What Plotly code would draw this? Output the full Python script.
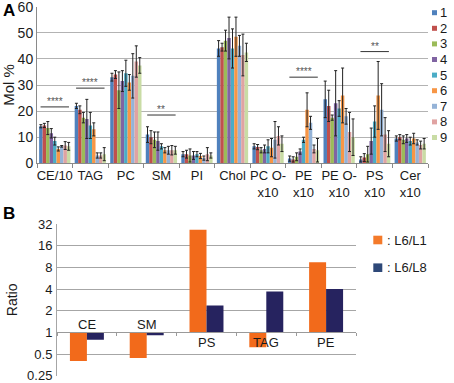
import math
import plotly.graph_objects as go

W, H = 454, 383

# ---------------- Panel A data ----------------
categories_a = ["CE/10", "TAG", "PC", "SM", "PI", "Chol", "PC O-<br>x10",
                "PE<br>x10", "PE O-<br>x10", "PS<br>x10", "Cer<br>x10"]
series_names = ["1", "2", "3", "4", "5", "6", "7", "8", "9"]
series_colors = ["#4F81BD", "#C0504D", "#9BBB59", "#8064A2", "#4BACC6",
                 "#F79646", "#95B3D7", "#E0A3A2", "#C9DCA5"]

s1 = [14.2, 22.0, 33.0, 11.0, 3.5, 44.0, 6.5, 1.8, 24.5, 1.5, 9.5]
s2 = [14.5, 20.5, 34.0, 10.0, 3.5, 44.5, 6.2, 1.5, 22.0, 2.2, 10.0]
s3 = [13.5, 17.5, 28.0, 9.0, 3.0, 47.0, 5.0, 2.5, 17.5, 3.5, 9.0]
s4 = [11.5, 17.0, 31.5, 8.5, 3.0, 48.0, 5.5, 4.5, 23.0, 8.5, 9.5]
s5 = [8.5, 14.5, 34.5, 6.5, 3.5, 44.0, 6.5, 9.0, 21.0, 16.0, 8.5]
s6 = [5.5, 13.0, 31.0, 5.0, 2.8, 48.5, 6.0, 20.5, 26.0, 26.0, 9.5]
s7 = [6.5, 3.0, 33.5, 5.0, 2.0, 45.0, 9.0, 15.5, 18.0, 20.5, 8.0]
s8 = [6.8, 3.0, 39.0, 5.0, 3.5, 41.5, 10.5, 5.5, 12.0, 11.0, 7.0]
s9 = [6.5, 3.5, 37.5, 5.0, 3.0, 42.5, 7.5, 5.0, 10.0, 7.5, 7.5]

e1 = [0.6, 1.0, 1.5, 3.0, 1.0, 3.0, 1.0, 1.0, 7.0, 1.0, 1.0]
e2 = [0.8, 1.5, 1.5, 2.5, 1.5, 1.5, 1.0, 1.0, 6.0, 1.5, 1.0]
e3 = [2.5, 2.0, 7.0, 3.0, 2.5, 4.0, 1.0, 1.5, 1.0, 3.0, 1.5]
e4 = [1.8, 7.5, 4.0, 3.5, 1.5, 8.0, 1.5, 1.0, 12.5, 5.0, 1.5]
e5 = [1.5, 5.0, 5.0, 1.0, 1.0, 7.5, 2.5, 1.0, 3.0, 6.0, 1.5]
e6 = [0.8, 2.5, 3.0, 1.0, 1.0, 7.5, 3.5, 6.5, 10.5, 13.0, 2.0]
e7 = [0.3, 1.0, 8.5, 1.5, 0.8, 4.0, 7.0, 2.5, 3.0, 10.0, 1.0]
e8 = [1.5, 1.0, 6.0, 1.8, 2.5, 8.0, 3.5, 1.5, 7.5, 6.5, 1.5]
e9 = [1.5, 2.5, 3.0, 1.5, 1.0, 3.5, 3.0, 4.5, 7.0, 5.0, 2.0]

series_values = [s1, s2, s3, s4, s5, s6, s7, s8, s9]
series_errors = [e1, e2, e3, e4, e5, e6, e7, e8, e9]

sig_category_index = [0, 1, 3, 7, 9]
sig_level = [21.6, 28.8, 18.5, 33.0, 42.8]
sig_label = ["****", "****", "**", "****", "**"]

# ---------------- Panel B data ----------------
categories_b = ["CE", "SM", "PS", "TAG", "PE"]
ratio_l6_l1 = [0.40, 0.44, 26.6, 0.62, 9.4]
ratio_l6_l8 = [0.79, 0.91, 2.37, 3.7, 4.0]
ratio_ticks = [0.25, 0.5, 1, 2, 4, 8, 16, 32]
ratio_tick_labels = ["0.25", "0.5", "1", "2", "4", "8", "16", "32"]
b_names = [": L6/L1", ": L6/L8"]
b_colors = ["#F26A1B", "#26235F"]
b_legend_colors = ["#F47A2A", "#2E4878"]

FONT = "Liberation Sans, Arial, sans-serif"
TXT = "#1a1a1a"


def px(x):
    return x / W


def py(y):
    return 1 - y / H


fig = go.Figure()

for name, col, vals, errs in zip(series_names, series_colors, series_values, series_errors):
    fig.add_trace(go.Bar(
        x=categories_a, y=vals, name=name, marker=dict(color=col, line=dict(width=0)),
        error_y=dict(type="data", array=errs, color="#222222", thickness=1, width=1.5),
        xaxis="x", yaxis="y", showlegend=False))

bw = 0.284
for i, (name, vals) in enumerate(zip(b_names, [ratio_l6_l1, ratio_l6_l8])):
    fig.add_trace(go.Bar(
        x=categories_b, y=[v - 1 for v in vals], base=[1] * len(vals),
        width=bw, offset=-bw if i == 0 else 0,
        marker=dict(color=b_colors[i], line=dict(width=0)),
        name=name, xaxis="x2", yaxis="y2", showlegend=False))

shapes = []
annotations = []

# significance bars
for idx, lvl, lab in zip(sig_category_index, sig_level, sig_label):
    shapes.append(dict(type="line", xref="x", yref="y", x0=idx - 0.4, x1=idx + 0.4,
                       y0=lvl, y1=lvl, line=dict(color="#333333", width=1)))
    annotations.append(dict(xref="x", yref="y", x=idx, y=lvl, text=lab, showarrow=False,
                            yanchor="bottom", yshift=-2, font=dict(size=10, color="#555555", family=FONT)))

# Panel A legend
for i, (name, col) in enumerate(zip(series_names, series_colors)):
    yc = 12.7 + 15.6 * i
    shapes.append(dict(type="rect", xref="paper", yref="paper",
                       x0=px(432), x1=px(437), y0=py(yc + 2.5), y1=py(yc - 2.5),
                       fillcolor=col, line=dict(width=0)))
    annotations.append(dict(xref="paper", yref="paper", x=px(438), y=py(yc), text=name,
                            showarrow=False, xanchor="left", yanchor="middle",
                            font=dict(size=13, color=TXT, family=FONT)))

# Panel B legend
for i, name in enumerate(b_names):
    yc = 240 + 27.7 * i
    shapes.append(dict(type="rect", xref="paper", yref="paper",
                       x0=px(373.3), x1=px(382.3), y0=py(yc + 4.3), y1=py(yc - 4.3),
                       fillcolor=b_legend_colors[i], line=dict(width=0)))
    annotations.append(dict(xref="paper", yref="paper", x=px(385), y=py(yc), text=name,
                            showarrow=False, xanchor="left", yanchor="middle",
                            font=dict(size=13, color=TXT, family=FONT)))

# Panel B category labels at the ratio = 1 line
for cat, a, b in zip(categories_b, ratio_l6_l1, ratio_l6_l8):
    above = max(a, b) < 1
    annotations.append(dict(xref="x2", yref="y2", x=cat, y=0, text=cat, showarrow=False,
                            yanchor="middle", yshift=8 if above else -10,
                            font=dict(size=13, color=TXT, family=FONT)))

# panel letters
annotations.append(dict(xref="paper", yref="paper", x=px(1), y=py(10), text="<b>A</b>",
                        showarrow=False, xanchor="left", yanchor="middle",
                        font=dict(size=17, color="#000", family=FONT)))
annotations.append(dict(xref="paper", yref="paper", x=px(1), y=py(213), text="<b>B</b>",
                        showarrow=False, xanchor="left", yanchor="middle",
                        font=dict(size=17, color="#000", family=FONT)))

yb_dom = [py(375.7), py(224)]
lo, hi = math.log10(0.25), math.log10(32)
one_pos = yb_dom[0] + (0 - lo) / (hi - lo) * (yb_dom[1] - yb_dom[0])

fig.update_layout(
    width=W, height=H, margin=dict(l=0, r=0, t=0, b=0, autoexpand=False),
    paper_bgcolor="white", plot_bgcolor="white",
    barmode="group", bargap=0.12, bargroupgap=0,
    font=dict(family=FONT, color=TXT, size=13),
    xaxis=dict(domain=[px(37), px(428)], anchor="y", showline=True, linecolor="#8a8a8a",
               ticks="outside", tickson="boundaries", ticklen=4, tickcolor="#8a8a8a",
               tickangle=0, automargin=False,
               showgrid=False, tickfont=dict(size=13, color=TXT), fixedrange=True),
    yaxis=dict(domain=[py(163.3), py(6.7)], anchor="x", range=[0, 60.001], dtick=10, tick0=0,
               showgrid=True, gridcolor="#B3B3B3", gridwidth=1, zeroline=False,
               showline=True, linecolor="#8a8a8a", ticks="", ticklabelstandoff=0,
               ticklabeloverflow="allow", automargin=False,
               tickfont=dict(size=14, color=TXT),
               title=dict(text="Mol %", font=dict(size=15, color=TXT), standoff=4)),
    xaxis2=dict(domain=[px(57), px(356)], anchor="free", position=one_pos, side="bottom",
                showticklabels=False, ticks="outside", tickson="boundaries", ticklen=3,
                tickcolor="#9a9a9a", showline=True, linecolor="#9a9a9a", showgrid=False,
                automargin=False, fixedrange=True),
    yaxis2=dict(domain=yb_dom, anchor="x2", type="log", range=[lo, hi],
                tickvals=ratio_ticks, ticktext=ratio_tick_labels,
                showgrid=True, gridcolor="#A6A6A6", gridwidth=1, zeroline=False,
                showline=True, linecolor="#A6A6A6", ticks="", ticklabelstandoff=1,
                ticklabeloverflow="allow", automargin=False,
                tickfont=dict(size=13, color=TXT),
                title=dict(text="Ratio", font=dict(size=14, color=TXT), standoff=6)),
    shapes=shapes, annotations=annotations,
)

fig.write_html("out.html", config={"displayModeBar": False},
               post_script="document.body.style.margin='0px';document.body.style.padding='0px';")
